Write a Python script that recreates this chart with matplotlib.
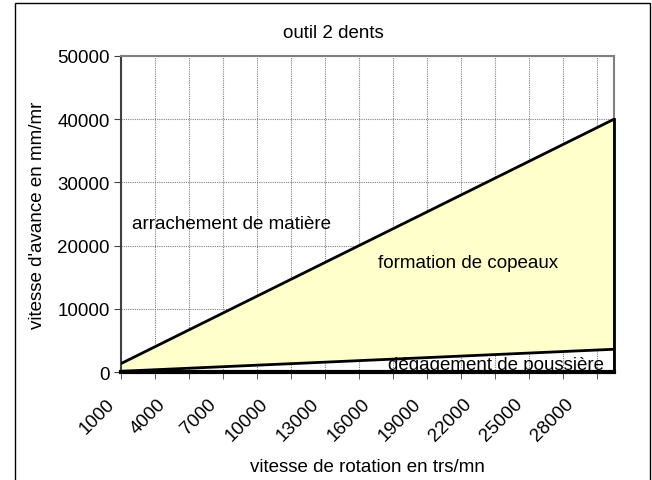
import matplotlib
matplotlib.use("Agg")
import matplotlib.pyplot as plt
import matplotlib.transforms as mtransforms
from matplotlib.patches import Rectangle

# vitesse de rotation (trs/mn), une categorie tous les 1000
rotation = [1000, 2000, 3000, 4000, 5000, 6000, 7000, 8000, 9000, 10000,
            11000, 12000, 13000, 14000, 15000, 16000, 17000, 18000, 19000, 20000,
            21000, 22000, 23000, 24000, 25000, 26000, 27000, 28000, 29000, 30000]
# limite basse : degagement de poussiere
poussiere = [120, 240, 360, 480, 600, 720, 840, 960, 1080, 1200,
             1320, 1440, 1560, 1680, 1800, 1920, 2040, 2160, 2280, 2400,
             2520, 2640, 2760, 2880, 3000, 3120, 3240, 3360, 3480, 3600]
# limite haute : arrachement de matiere
arrachement = [1333, 2667, 4000, 5333, 6667, 8000, 9333, 10667, 12000, 13333,
               14667, 16000, 17333, 18667, 20000, 21333, 22667, 24000, 25333, 26667,
               28000, 29333, 30667, 32000, 33333, 34667, 36000, 37333, 38667, 40000]

plt.rcParams['font.family'] = ['Liberation Sans', 'DejaVu Sans']
FS = 13.5

def main() :
    fig = plt.figure(figsize=(6.52, 4.81), dpi=100)
    ax = fig.add_axes([0.1856, 0.2245, 0.7561, 0.657])

    x = list(range(len(rotation)))

    ax.fill_between(x, poussiere, arrachement, color='#FFFFCC', zorder=2, linewidth=0)
    ax.plot(x, arrachement, color='black', lw=2, zorder=4, solid_capstyle='butt')
    ax.plot(x, poussiere, color='black', lw=2, zorder=4, solid_capstyle='butt')
    ax.plot([x[-1], x[-1]], [0, arrachement[-1]], color='black', lw=2, zorder=4, clip_on=False)
    ax.plot([x[0], x[-1]], [0, 0], color='black', lw=3, zorder=5, clip_on=False)

    ax.set_xlim(0, len(rotation) - 1)
    ax.set_ylim(0, 50000)

    # etiquettes tous les 3 (major), graduations + grille tous les 2 (minor)
    ax.xaxis.remove_overlapping_locs = False
    ax.set_xticks(x[0::3])
    ax.set_xticklabels([str(r) for r in rotation[0::3]],
                       rotation=45, ha='right', va='center', rotation_mode='anchor',
                       fontsize=FS)
    ax.tick_params(axis='x', which='major', length=0, pad=21)
    ax.set_xticks(x[0:-1:2], minor=True)
    ax.tick_params(axis='x', which='minor', length=5, direction='out', color='#404040')
    offset = mtransforms.ScaledTranslation(-9 / 100, 0, fig.dpi_scale_trans)
    for label in ax.get_xticklabels() :
        label.set_transform(label.get_transform() + offset)

    ax.set_yticks([0, 10000, 20000, 30000, 40000, 50000])
    ax.tick_params(axis='y', length=5, direction='out', labelsize=FS, color='#404040', pad=3)

    ax.grid(True, which='minor', axis='x', color='#808080', linestyle=(0, (1, 1)), linewidth=0.8, zorder=1)
    ax.grid(True, which='major', axis='y', color='#808080', linestyle=(0, (1, 1)), linewidth=0.8, zorder=1)
    ax.set_axisbelow(True)

    for side in ['top', 'right'] :
        ax.spines[side].set_color('#808080')
        ax.spines[side].set_linewidth(1.5)
    ax.spines['left'].set_color('#404040')
    ax.spines['left'].set_linewidth(1.5)
    ax.spines['bottom'].set_color('black')
    ax.spines['bottom'].set_linewidth(1.5)

    ax.set_xlabel("vitesse de rotation en trs/mn", fontsize=FS, labelpad=10)
    ax.set_ylabel("vitesse d'avance en mm/mr", fontsize=FS, labelpad=8)
    fig.text(333 / 652, 1 - 34 / 481, "outil 2 dents", fontsize=FS, ha='center', va='center')

    ax.text(0.022, 0.4715, "arrachement de matière", transform=ax.transAxes,
            fontsize=FS, va='center', ha='left', zorder=6)
    ax.text(0.521, 0.348, "formation de copeaux", transform=ax.transAxes,
            fontsize=FS, va='center', ha='left', zorder=6)
    ax.text(0.5416, 0.025, "dégagement de poussière", transform=ax.transAxes,
            fontsize=FS, va='center', ha='left', zorder=3)

    fig.patches.append(Rectangle((15 / 652, -0.05), 635 / 652, 1.05 - 4 / 481,
                                 transform=fig.transFigure, fill=False,
                                 edgecolor='black', lw=1))

    fig.savefig("out.png", dpi=100)

if __name__ == "__main__" :
    main()
